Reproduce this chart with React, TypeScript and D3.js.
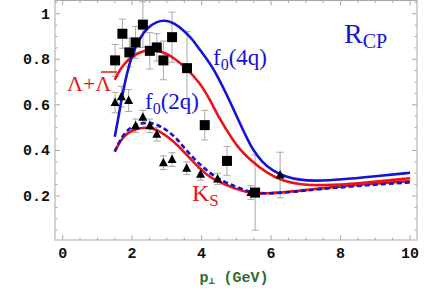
import * as d3 from 'd3';
import React from 'react';

// Lambda + anti-Lambda data: [pT, Rcp, error]
const lambdaPts: [number, number, number][] = [
  [1.51, 0.795, 0.07], [1.72, 0.912, 0.064], [1.92, 0.83, 0.063], [2.1, 0.874, 0.07],
  [2.31, 0.952, 0.1], [2.51, 0.837, 0.08], [2.71, 0.852, 0.06], [2.9, 0.795, 0.085],
  [3.15, 0.897, 0.11], [3.58, 0.761, 0.16], [4.09, 0.511, 0.065], [4.73, 0.354, 0.063],
  [5.54, 0.215, 0.165],
];

// K_S data
const kaonPts: [number, number, number][] = [
  [1.51, 0.61, 0.045], [1.69, 0.636, 0.045], [1.9, 0.619, 0.048], [2.1, 0.508, 0.03],
  [2.31, 0.546, 0.03], [2.51, 0.508, 0.03], [2.71, 0.471, 0.03], [2.9, 0.346, 0.03],
  [3.15, 0.36, 0.03], [3.57, 0.322, 0.028], [3.97, 0.295, 0.025], [4.46, 0.275, 0.025],
  [5.42, 0.215, 0.03], [6.26, 0.292, 0.1],
];

// model curves
const f4qCurve: [number, number][] = [
  [1.5, 0.46], [1.6, 0.54], [1.7, 0.63], [1.85, 0.74], [2.0, 0.82], [2.2, 0.89],
  [2.45, 0.94], [2.7, 0.965], [2.95, 0.972], [3.2, 0.96], [3.5, 0.925], [3.75, 0.885],
  [3.95, 0.841], [4.33, 0.766], [4.73, 0.643], [5.1, 0.52], [5.33, 0.446], [5.48, 0.402],
  [5.74, 0.349], [6.05, 0.31], [6.4, 0.285], [6.83, 0.27], [7.3, 0.266],
  [8.0, 0.272], [9.0, 0.287], [10, 0.302],
];
const lambdaCurve: [number, number][] = [
  [1.5, 0.71], [1.65, 0.755], [1.8, 0.785], [2.0, 0.812], [2.2, 0.83], [2.45, 0.84],
  [2.7, 0.839], [2.95, 0.828], [3.2, 0.806], [3.57, 0.76], [3.96, 0.695], [4.25, 0.62],
  [4.53, 0.534], [4.9, 0.446], [5.1, 0.404], [5.4, 0.358], [5.88, 0.3], [6.36, 0.264],
  [6.84, 0.25], [7.5, 0.246], [8.5, 0.255], [10, 0.278],
];
const kaonCurve: [number, number][] = [
  [1.5, 0.395], [1.65, 0.44], [1.8, 0.468], [2.0, 0.488], [2.2, 0.498], [2.4, 0.501],
  [2.6, 0.496], [2.8, 0.483], [3.0, 0.463], [3.3, 0.425], [3.57, 0.38], [3.85, 0.335],
  [4.15, 0.292], [4.45, 0.265], [4.75, 0.246], [5.05, 0.228], [5.3, 0.217], [5.6, 0.212],
  [5.9, 0.211], [6.5, 0.218], [7.0, 0.226], [7.8, 0.24], [9.0, 0.255], [10, 0.265],
];
const f2qCurve: [number, number][] = [
  [1.5, 0.395], [1.65, 0.445], [1.8, 0.48], [2.0, 0.505], [2.2, 0.518], [2.45, 0.523],
  [2.7, 0.516], [3.0, 0.49], [3.3, 0.45], [3.57, 0.398], [3.9, 0.345], [4.24, 0.3],
  [4.6, 0.265], [5.0, 0.24], [5.3, 0.222], [5.6, 0.213], [5.9, 0.211], [6.5, 0.216],
  [7.0, 0.224], [7.8, 0.236], [9.0, 0.25], [10, 0.26],
];

const xTicks = [0, 2, 4, 6, 8, 10];
const yTicks = [0.2, 0.4, 0.6, 0.8, 1];

const W = 436;
const H = 289;
const BLUE = '#1414d2';
const RED = '#e8141c';
const GRAY = '#a8a8a8';

export default function App() {
  const x = d3.scaleLinear().domain([-0.22, 10.2]).range([55, 417]);
  const y = d3.scaleLinear().domain([0.007, 1.06]).range([240, 0]);

  const line = d3.line<[number, number]>()
    .x((d) => x(d[0]))
    .y((d) => y(d[1]))
    .curve(d3.curveBasis);

  const xMinor = d3.range(0, 10.01, 0.5).filter((v) => !xTicks.includes(v));
  const yMinor = d3.range(0.05, 1.06, 0.05).filter((v) => !yTicks.some((t) => Math.abs(t - v) < 1e-6));

  const errBar = (p: [number, number, number], i: number) => {
    const cx = x(p[0]);
    const top = y(p[1] + p[2]);
    const bot = y(p[1] - p[2]);
    return (
      <g key={i} stroke={GRAY} strokeWidth={1}>
        <line x1={cx} x2={cx} y1={top} y2={bot} />
        <line x1={cx - 3.5} x2={cx + 3.5} y1={top} y2={top} />
        <line x1={cx - 3.5} x2={cx + 3.5} y1={bot} y2={bot} />
      </g>
    );
  };

  const tickFont = { fontFamily: '"Liberation Mono", "DejaVu Sans Mono", monospace', fontWeight: 700, fontSize: 15 };
  const serif = '"Liberation Serif", "DejaVu Serif", serif';

  return (
    <svg width={W} height={H} style={{ position: 'absolute', left: 0, top: 0, background: '#fff' }}>
      {/* frame */}
      <rect x={55} y={0.5} width={362} height={239.5} fill="none" stroke={GRAY} strokeWidth={1} />
      {xTicks.map((t) => (
        <g key={'xt' + t} stroke={GRAY}>
          <line x1={x(t)} x2={x(t)} y1={240} y2={235} />
          <line x1={x(t)} x2={x(t)} y1={0.5} y2={5.5} />
        </g>
      ))}
      {xMinor.map((t) => (
        <g key={'xm' + t} stroke={GRAY}>
          <line x1={x(t)} x2={x(t)} y1={240} y2={237.5} />
          <line x1={x(t)} x2={x(t)} y1={0.5} y2={3} />
        </g>
      ))}
      {yTicks.map((t) => (
        <g key={'yt' + t} stroke={GRAY}>
          <line x1={55} x2={60} y1={y(t)} y2={y(t)} />
          <line x1={417} x2={412} y1={y(t)} y2={y(t)} />
        </g>
      ))}
      {yMinor.map((t) => (
        <g key={'ym' + t} stroke={GRAY}>
          <line x1={55} x2={57.5} y1={y(t)} y2={y(t)} />
          <line x1={417} x2={414.5} y1={y(t)} y2={y(t)} />
        </g>
      ))}
      {xTicks.map((t) => (
        <text key={'xl' + t} x={x(t)} y={258} textAnchor="middle" {...tickFont} fill="#111">{t}</text>
      ))}
      {yTicks.map((t) => (
        <text key={'yl' + t} x={50} y={y(t) + 5} textAnchor="end" {...tickFont} fill="#111">{t === 1 ? '1' : t.toString()}</text>
      ))}
      <text x={234} y={282} textAnchor="middle" {...tickFont} fontSize={15} fill="#2f6a2f">
        p<tspan fontSize={10} dy={2}>⊥</tspan><tspan dy={-2}> (GeV)</tspan>
      </text>

      {/* error bars */}
      {lambdaPts.map(errBar)}
      {kaonPts.map((p, i) => errBar(p, i + 100))}

      {/* model curves */}
      <path d={line(kaonCurve) ?? ''} fill="none" stroke={RED} strokeWidth={2.6} />
      <path d={line(f2qCurve) ?? ''} fill="none" stroke={BLUE} strokeWidth={2.6} strokeDasharray="5,3" />
      <path d={line(lambdaCurve) ?? ''} fill="none" stroke={RED} strokeWidth={2.6} />
      <path d={line(f4qCurve) ?? ''} fill="none" stroke={BLUE} strokeWidth={2.6} />

      {/* markers */}
      {lambdaPts.map((p, i) => (
        <rect key={'sq' + i} x={x(p[0]) - 5} y={y(p[1]) - 5} width={10} height={10} fill="#000" />
      ))}
      {kaonPts.map((p, i) => {
        const cx = x(p[0]);
        const cy = y(p[1]);
        return <path key={'tr' + i} d={`M${cx},${cy - 5}L${cx + 4.5},${cy + 3.5}L${cx - 4.5},${cy + 3.5}Z`} fill="#000" />;
      })}

      {/* labels */}
      <text x={344} y={43} fontFamily={serif} fontSize={28} fill={BLUE}>
        R<tspan fontSize={20} dy={5}>CP</tspan>
      </text>
      <text x={213} y={65} fontFamily={serif} fontSize={23} fill={BLUE}>
        f<tspan fontSize={16} dy={5}>0</tspan><tspan dy={-5}>(4q)</tspan>
      </text>
      <text x={145} y={109} fontFamily={serif} fontSize={23} fill={BLUE}>
        f<tspan fontSize={16} dy={5}>0</tspan><tspan dy={-5}>(2q)</tspan>
      </text>
      <text x={67} y={91} fontFamily={serif} fontSize={22} fill={RED}>Λ+Λ</text>
      <line x1={101} x2={117} y1={72} y2={72} stroke={RED} strokeWidth={1.5} />
      <text x={192} y={201} fontFamily={serif} fontSize={24} fill={RED}>
        K<tspan fontSize={17} dy={5}>S</tspan>
      </text>
    </svg>
  );
}
